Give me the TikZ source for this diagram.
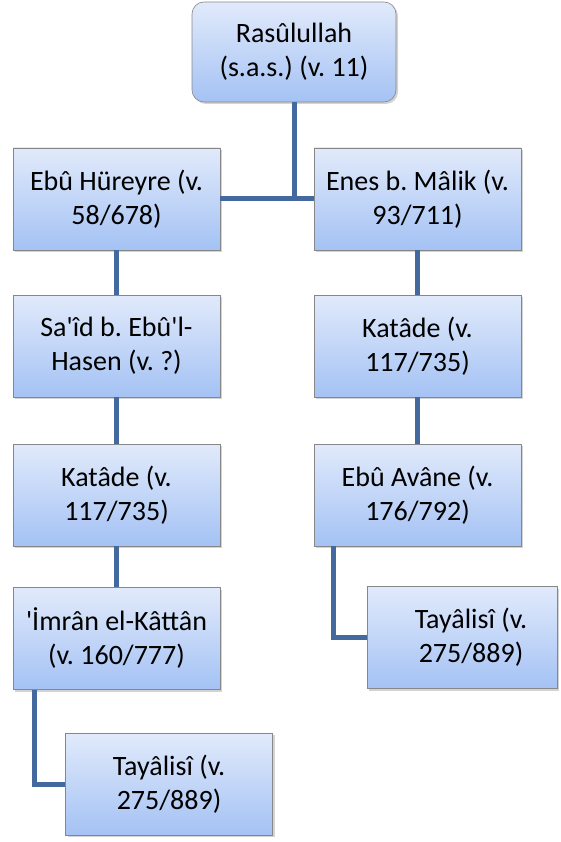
\documentclass[tikz,border=0pt]{standalone}
\usepackage{fontspec}
\newfontfamily\boxfont{Carlito}
\usepackage{xcolor}
\usetikzlibrary{positioning, shadows}
\definecolor{boxtop}{RGB}{225,234,251}
\definecolor{boxbottom}{RGB}{164,194,244}
\definecolor{linkblue}{RGB}{67,105,158}
\definecolor{boxborder}{RGB}{135,135,135}
\frenchspacing

\begin{document}
\begin{tikzpicture}[x=1pt, y=-1pt, on grid,
        person/.style={draw=boxborder, line width=0.6pt, top color=boxtop, bottom color=boxbottom,
            minimum width=207pt, minimum height=102pt, inner sep=0pt, align=center,
            font=\boxfont\fontsize{28}{34}\selectfont,
            drop shadow={shadow xshift=2pt, shadow yshift=-2pt, opacity=0.35}},
        link/.style={draw=linkblue, line width=5pt}]
        \useasboundingbox (0,0) rectangle (561,842);

        \node[person, rounded corners=12pt, minimum width=204pt, minimum height=100pt] (root) at (294,52) {Rasûlullah\\(s.a.s.) (v. 11)};

        % left chain
        \node[person] (hureyre) [below left=147pt and 177.5pt of root] {Ebû Hüreyre (v.\\58/678)};
        \node[person] (said) [below=147pt of hureyre] {Sa'îd b. Ebû'l-\\Hasen (v. ?)};
        \node[person] (katadeL) [below=149pt of said] {Katâde (v.\\117/735)};
        \node[person] (imran) [below=143.5pt of katadeL] {'İmrân el-Kâttân\\(v. 160/777)};
        \node[person] (tayalisiL) [below right=145.5pt and 52.5pt of imran] {Tayâlisî (v.\\275/889)};

        % right chain
        \node[person] (enes) [below right=147pt and 123.5pt of root] {Enes b. Mâlik (v.\\93/711)};
        \node[person] (katadeR) [below=147pt of enes] {Katâde (v.\\117/735)};
        \node[person] (avane) [below=149pt of katadeR] {Ebû Avâne (v.\\176/792)};
        \node[person, minimum width=190pt] (tayalisiR) [below right=142.5pt and 44.5pt of avane] {\hspace*{18pt}Tayâlisî (v.\\\hspace*{18pt}275/889)};

        \draw[link] (root.south) -- (root.south |- hureyre.east);
        \path[link]
        (hureyre) edge (enes)
        (hureyre) edge (said)
        (said) edge (katadeL)
        (katadeL) edge (imran)
        (enes) edge (katadeR)
        (katadeR) edge (avane);

        \draw[link] ([xshift=22pt]imran.south west) |- (tayalisiL.west);
        \draw[link] ([xshift=20pt]avane.south west) |- (tayalisiR.west);

    \end{tikzpicture}
\end{document}
